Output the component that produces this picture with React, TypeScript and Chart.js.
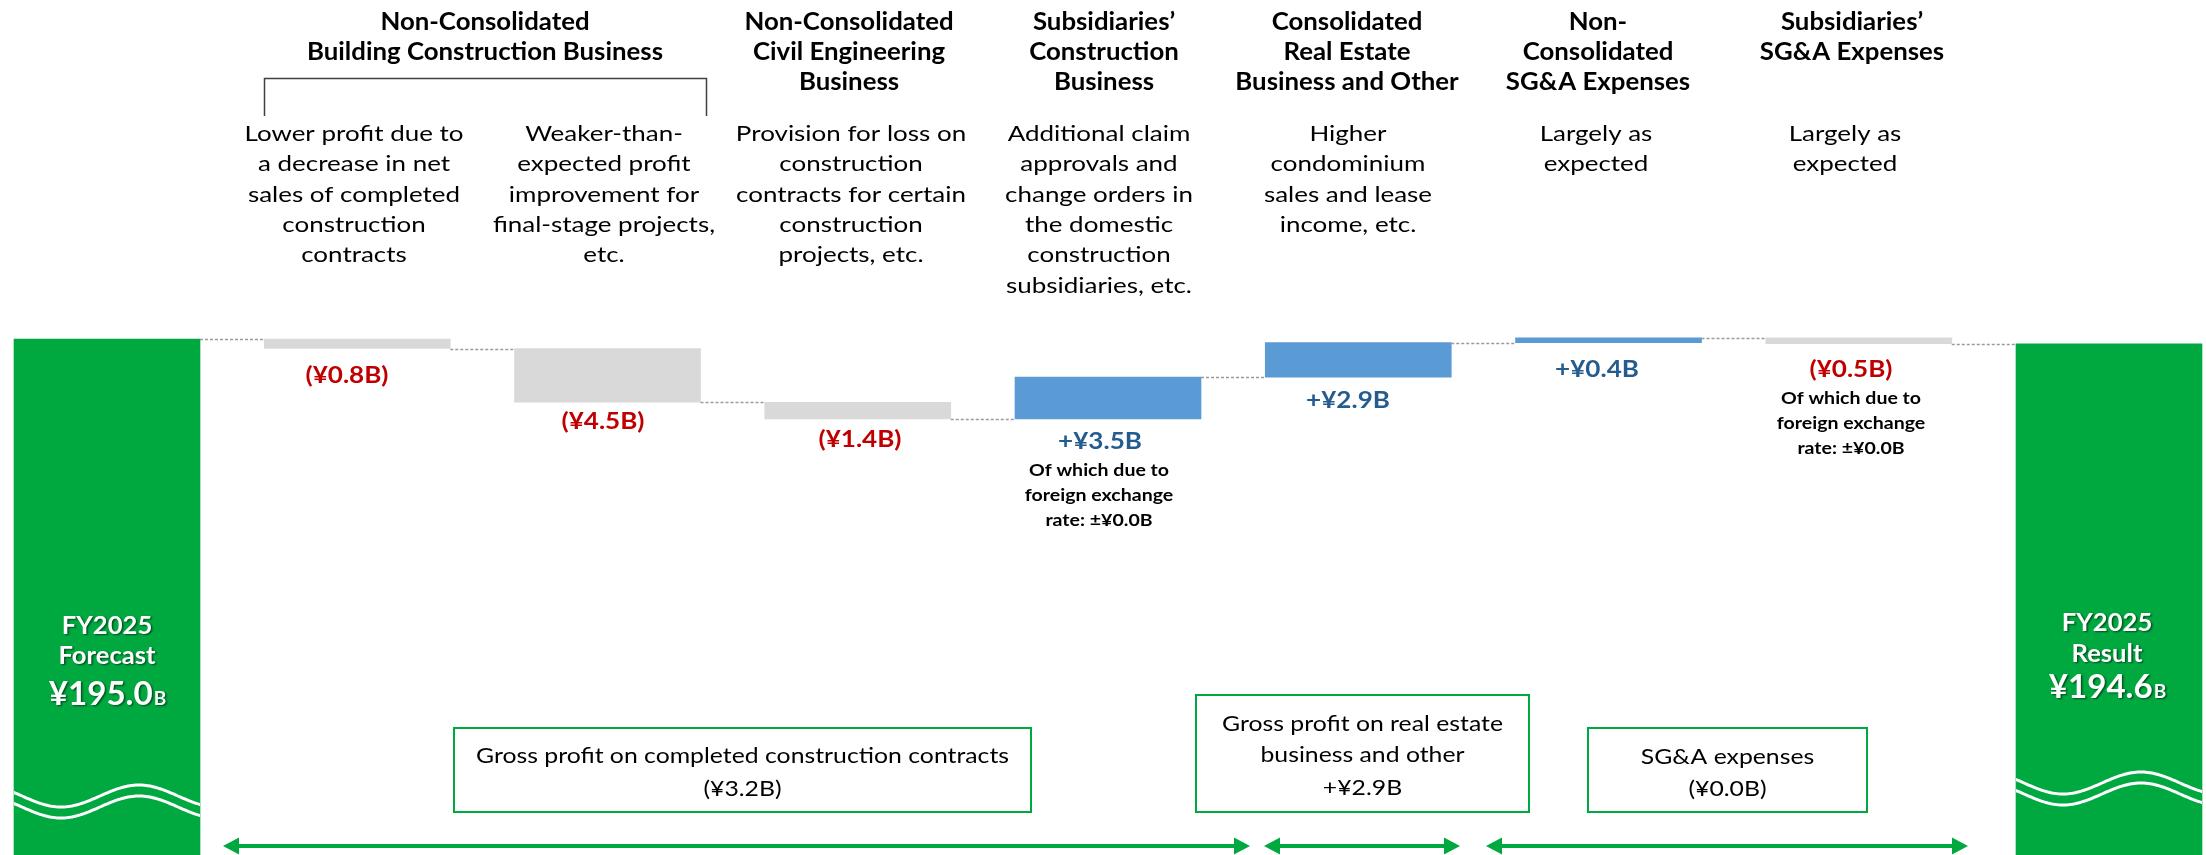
import React, { useEffect, useRef } from 'react';
import { Chart, registerables } from 'chart.js';

Chart.register(...registerables);

// ---------------- data ----------------
const START_VALUE = 195.0;
const END_VALUE = 194.6;
const CATEGORIES = [
  'FY2025 Forecast',
  'Building: lower net sales',
  'Building: final-stage projects',
  'Civil Engineering',
  'Subsidiaries’ Construction',
  'Real Estate and Other',
  'Non-Consolidated SG&A',
  'Subsidiaries’ SG&A',
  'FY2025 Result',
];
const DELTAS = [-0.8, -4.5, -1.4, 3.5, 2.9, 0.4, -0.5];
const VALUE_LABELS = ['(¥0.8B)', '(¥4.5B)', '(¥1.4B)', '+¥3.5B', '+¥2.9B', '+¥0.4B', '(¥0.5B)'];
const HEADERS = [
  ['Non-Consolidated', 'Building Construction Business'],
  ['Non-Consolidated', 'Civil Engineering', 'Business'],
  ['Subsidiaries’', 'Construction', 'Business'],
  ['Consolidated', 'Real Estate', 'Business and Other'],
  ['Non-', 'Consolidated', 'SG&A Expenses'],
  ['Subsidiaries’', 'SG&A Expenses'],
];
const DESCRIPTIONS = [
  ['Lower profit due to', 'a decrease in net', 'sales of completed', 'construction', 'contracts'],
  ['Weaker-than-', 'expected profit', 'improvement for', 'final-stage projects,', 'etc.'],
  ['Provision for loss on', 'construction', 'contracts for certain', 'construction', 'projects, etc.'],
  ['Additional claim', 'approvals and', 'change orders in', 'the domestic', 'construction', 'subsidiaries, etc.'],
  ['Higher', 'condominium', 'sales and lease', 'income, etc.'],
  ['Largely as', 'expected'],
  ['Largely as', 'expected'],
];
const FX_NOTE = ['Of which due to', 'foreign exchange', 'rate: ±¥0.0B'];
const SUMMARY_BOXES = [
  ['Gross profit on completed construction contracts', '(¥3.2B)'],
  ['Gross profit on real estate', 'business and other', '+¥2.9B'],
  ['SG&A expenses', '(¥0.0B)'],
];
const END_LABELS = [
  ['FY2025', 'Forecast', '¥195.0', 'B'],
  ['FY2025', 'Result', '¥194.6', 'B'],
];

// ---------------- styling / layout ----------------
const AXIS_MIN = 151.78;
const AXIS_MAX = 223.39;
const X_MIN = -0.4276;
const X_MAX = 8.3876;
const GREEN = '#00A940';
const GRAY = '#D9D9D9';
const BLUE = '#5B9BD5';
const RED = '#C00000';
const DARKBLUE = '#255C8E';
const FONT = 'Lato, "Open Sans", sans-serif';

type Style = { size: number; weight: string; ref: string; refW: number; k?: number };
const STYLES: Record<string, Style> = {
  head: { size: 24.5, weight: 'bold', ref: 'Building Construction Business', refW: 356 },
  desc: { size: 22, weight: 'normal', ref: 'Lower profit due to', refW: 219 },
  val: { size: 23, weight: 'bold', ref: '(¥0.8B)', refW: 83 },
  note: { size: 17.5, weight: 'bold', ref: 'Of which due to', refW: 140 },
  box: { size: 22, weight: 'normal', ref: 'Gross profit on completed construction contracts', refW: 533 },
  fy: { size: 24.5, weight: 'bold', ref: 'Forecast', refW: 97 },
  num: { size: 33, weight: 'bold', ref: '¥195.0', refW: 104 },
  numB: { size: 19, weight: 'bold', ref: 'B', refW: 13 },
};

const HEADER_X = [485, 849, 1104, 1347, 1598, 1852];
const HEADER_Y = [21.7, 51.7, 81.7];
const DESC_X = [354, 604, 851, 1099, 1348, 1596, 1845];
const DESC_Y0 = 133;
const LINE_H = 30.4;
const VALUE_POS = [
  [347, 375], [603, 421], [860, 439], [1100, 441], [1348, 400], [1597, 369], [1851, 369],
];
const NOTE_POS = [
  [1099, 470, 25],
  [1851, 398, 25],
];
const BOX_RECTS = [
  [454, 728, 1031, 812],
  [1196, 695, 1529, 812],
  [1588, 728, 1867, 812],
];
const BOX_TEXT_Y = [[755, 788], [723, 754, 787], [756, 788]];
const ARROWS = [
  [223, 1250],
  [1264, 1460],
  [1486, 1968],
];
const ARROW_Y = 846;
const END_TEXT = [
  { cx: 107, ys: [625, 655, 693] },
  { cx: 2107, ys: [622, 653, 686] },
];
const WAVE_Y = [796, 783];

function prepStyles(ctx: CanvasRenderingContext2D) {
  for (const key of Object.keys(STYLES)) {
    const s = STYLES[key];
    ctx.font = `${s.weight} ${s.size}px ${FONT}`;
    const w = ctx.measureText(s.ref).width;
    s.k = w > 0 ? s.refW / w : 1;
  }
}

function drawText(
  ctx: CanvasRenderingContext2D,
  text: string,
  cx: number,
  cy: number,
  styleKey: string,
  color: string,
  align: CanvasTextAlign = 'center'
) {
  const s = STYLES[styleKey];
  ctx.save();
  ctx.font = `${s.weight} ${s.size}px ${FONT}`;
  ctx.fillStyle = color;
  ctx.textAlign = align;
  ctx.textBaseline = 'alphabetic';
  ctx.translate(cx, cy + s.size * 0.358);
  ctx.scale(s.k || 1, 1);
  ctx.fillText(text, 0, 0);
  ctx.restore();
}

function textWidth(ctx: CanvasRenderingContext2D, text: string, styleKey: string) {
  const s = STYLES[styleKey];
  ctx.save();
  ctx.font = `${s.weight} ${s.size}px ${FONT}`;
  const w = ctx.measureText(text).width * (s.k || 1);
  ctx.restore();
  return w;
}

function buildBars() {
  const bars: { x: number; y: [number, number] }[] = [];
  const colors: string[] = [];
  const levels: number[] = [];
  let running = START_VALUE;
  bars.push({ x: 0, y: [AXIS_MIN, START_VALUE] });
  colors.push(GREEN);
  levels.push(running);
  DELTAS.forEach((d, i) => {
    const next = Math.round((running + d) * 100) / 100;
    bars.push({ x: i + 1, y: [running, next] });
    colors.push(d < 0 ? GRAY : BLUE);
    running = next;
    levels.push(running);
  });
  bars.push({ x: DELTAS.length + 1, y: [AXIS_MIN, END_VALUE] });
  colors.push(GREEN);
  return { bars, colors, levels };
}

const overlayPlugin = {
  id: 'overlay',
  afterDatasetsDraw(chart: any) {
    const ctx: CanvasRenderingContext2D = chart.ctx;
    const meta = chart.getDatasetMeta(0);
    const yScale = chart.scales.y;
    const { levels } = buildBars();
    prepStyles(ctx);

    // connectors
    ctx.save();
    ctx.strokeStyle = '#9A9A9A';
    ctx.lineWidth = 1.6;
    ctx.setLineDash([3, 2]);
    for (let i = 0; i < meta.data.length - 1; i++) {
      const a = meta.data[i];
      const b = meta.data[i + 1];
      const y = Math.round(yScale.getPixelForValue(levels[i])) + 0.5;
      ctx.beginPath();
      ctx.moveTo(a.x + a.width / 2, y);
      ctx.lineTo(b.x - b.width / 2, y);
      ctx.stroke();
    }
    ctx.restore();

    // waves on green bars
    [0, meta.data.length - 1].forEach((idx, j) => {
      const el = meta.data[idx];
      const xl = el.x - el.width / 2;
      const xr = el.x + el.width / 2;
      ctx.save();
      ctx.beginPath();
      ctx.rect(xl, 0, xr - xl, chart.height);
      ctx.clip();
      ctx.strokeStyle = '#FFFFFF';
      ctx.lineWidth = 3;
      [0, 11].forEach((off) => {
        ctx.beginPath();
        for (let x = xl - 2; x <= xr + 2; x += 2) {
          const y = WAVE_Y[j] + off + 11 * Math.cos((2 * Math.PI * (x - xl - 47)) / 156);
          if (x === xl - 2) ctx.moveTo(x, y);
          else ctx.lineTo(x, y);
        }
        ctx.stroke();
      });
      ctx.restore();
    });

    // end bar labels
    END_LABELS.forEach((lab, j) => {
      const t = END_TEXT[j];
      ctx.save();
      ctx.shadowColor = 'rgba(0,0,0,0.55)';
      ctx.shadowOffsetX = 1.5;
      ctx.shadowOffsetY = 1.5;
      ctx.shadowBlur = 2;
      drawText(ctx, lab[0], t.cx, t.ys[0], 'fy', '#FFFFFF');
      drawText(ctx, lab[1], t.cx, t.ys[1], 'fy', '#FFFFFF');
      const w1 = textWidth(ctx, lab[2], 'num');
      STYLES.numB.k = STYLES.num.k;
      const w2 = textWidth(ctx, lab[3], 'numB');
      const x0 = t.cx - (w1 + w2) / 2;
      const base = t.ys[2] + STYLES.num.size * 0.358;
      drawText(ctx, lab[2], x0, t.ys[2], 'num', '#FFFFFF', 'left');
      drawText(ctx, lab[3], x0 + w1 + 1, base - STYLES.numB.size * 0.358, 'numB', '#FFFFFF', 'left');
      ctx.restore();
    });

    // headers
    HEADERS.forEach((lines, i) => {
      lines.forEach((ln, j) => drawText(ctx, ln, HEADER_X[i], HEADER_Y[j], 'head', '#000000'));
    });

    // bracket
    const b1 = meta.data[1];
    const b2 = meta.data[2];
    ctx.save();
    ctx.strokeStyle = '#404040';
    ctx.lineWidth = 1.5;
    ctx.beginPath();
    const bl = Math.round(b1.x - b1.width / 2) + 0.5;
    const br = Math.round(b2.x + b2.width / 2 + 5) + 0.5;
    ctx.moveTo(bl, 116);
    ctx.lineTo(bl, 78.5);
    ctx.lineTo(br, 78.5);
    ctx.lineTo(br, 116);
    ctx.stroke();
    ctx.restore();

    // descriptions
    DESCRIPTIONS.forEach((lines, i) => {
      lines.forEach((ln, j) => drawText(ctx, ln, DESC_X[i], DESC_Y0 + j * LINE_H, 'desc', '#000000'));
    });

    // value labels
    VALUE_LABELS.forEach((lab, i) => {
      const color = DELTAS[i] < 0 ? RED : DARKBLUE;
      drawText(ctx, lab, VALUE_POS[i][0], VALUE_POS[i][1], 'val', color);
    });

    // fx notes
    NOTE_POS.forEach(([x, y, lh]) => {
      FX_NOTE.forEach((ln, j) => drawText(ctx, ln, x, y + j * lh, 'note', '#000000'));
    });

    // summary boxes
    SUMMARY_BOXES.forEach((lines, i) => {
      const [x1, y1, x2, y2] = BOX_RECTS[i];
      ctx.save();
      ctx.fillStyle = '#FFFFFF';
      ctx.fillRect(x1, y1, x2 - x1, y2 - y1);
      ctx.strokeStyle = GREEN;
      ctx.lineWidth = 2;
      ctx.strokeRect(x1, y1, x2 - x1, y2 - y1);
      ctx.restore();
      const cx = (x1 + x2) / 2;
      lines.forEach((ln, j) => drawText(ctx, ln, cx, BOX_TEXT_Y[i][j], 'box', '#000000'));
    });

    // arrows
    ctx.save();
    ctx.strokeStyle = GREEN;
    ctx.fillStyle = GREEN;
    ctx.lineWidth = 4;
    ARROWS.forEach(([xa, xb]) => {
      const head = 16;
      const half = 8.5;
      ctx.beginPath();
      ctx.moveTo(xa + head - 1, ARROW_Y);
      ctx.lineTo(xb - head + 1, ARROW_Y);
      ctx.stroke();
      ctx.beginPath();
      ctx.moveTo(xa, ARROW_Y);
      ctx.lineTo(xa + head, ARROW_Y - half);
      ctx.lineTo(xa + head, ARROW_Y + half);
      ctx.closePath();
      ctx.fill();
      ctx.beginPath();
      ctx.moveTo(xb, ARROW_Y);
      ctx.lineTo(xb - head, ARROW_Y - half);
      ctx.lineTo(xb - head, ARROW_Y + half);
      ctx.closePath();
      ctx.fill();
    });
    ctx.restore();
  },
};

export default function App() {
  const ref = useRef<HTMLCanvasElement | null>(null);

  useEffect(() => {
    if (!ref.current) return;
    const { bars, colors } = buildBars();
    const chart = new Chart(ref.current, {
      type: 'bar',
      data: {
        labels: CATEGORIES,
        datasets: [
          {
            data: bars as any,
            backgroundColor: colors,
            borderWidth: 0,
            borderSkipped: false,
            barThickness: 186,
          } as any,
        ],
      },
      options: {
        responsive: false,
        animation: false,
        devicePixelRatio: 1,
        layout: { padding: 0 },
        plugins: {
          legend: { display: false },
          tooltip: { enabled: false },
        },
        scales: {
          x: { type: 'linear', display: false, min: X_MIN, max: X_MAX, offset: false },
          y: { display: false, min: AXIS_MIN, max: AXIS_MAX },
        },
      },
      plugins: [overlayPlugin],
    });
    return () => chart.destroy();
  }, []);

  return (
    <div style={{ position: 'fixed', left: 0, top: 0, width: 2206, height: 855, background: '#FFFFFF', overflow: 'hidden' }}>
      <canvas ref={ref} width={2206} height={855} style={{ display: 'block', width: 2206, height: 855 }} />
    </div>
  );
}
